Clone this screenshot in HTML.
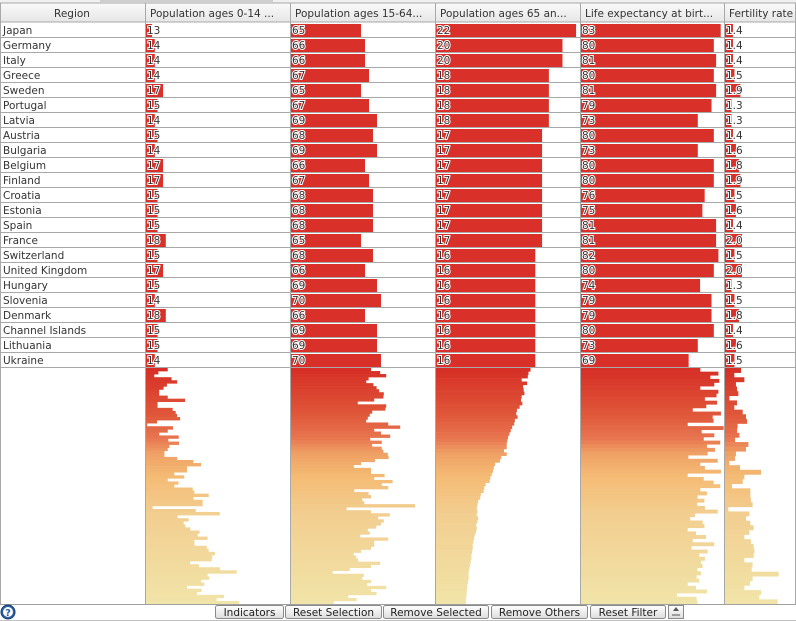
<!DOCTYPE html>
<html><head><meta charset="utf-8"><style>
html,body{margin:0;padding:0;background:#fff;}
svg{display:block;font-family:"DejaVu Sans","Liberation Sans",sans-serif;}
</style></head><body>
<svg id="chart" width="796" height="621" viewBox="0 0 796 621">
<defs>
<linearGradient id="hdr" x1="0" y1="0" x2="0" y2="1"><stop offset="0" stop-color="#fafafa"/><stop offset="1" stop-color="#e6e6e6"/></linearGradient>
<linearGradient id="btn" x1="0" y1="0" x2="0" y2="1"><stop offset="0" stop-color="#ffffff"/><stop offset="1" stop-color="#dcdcdc"/></linearGradient>
</defs>
<g id="top-strip">
<rect x="0" y="0" width="796" height="3" fill="#f0f0f0"/>
<rect x="100" y="0" width="95" height="2" fill="#cfcfcf"/>
<rect x="185" y="0" width="88" height="2" fill="#cfcfcf"/>
</g>
<g id="header"></g>
<g id="rows"></g>
<g id="mini"></g>
<g id="grid"></g>
<g id="toolbar">
<line x1="0" y1="604.5" x2="796" y2="604.5" stroke="#a0a0a0"/>
<line x1="0" y1="620.5" x2="796" y2="620.5" stroke="#c0c0c0"/>
<g>
<circle cx="8" cy="612" r="7" fill="#2a5fa8" stroke="#163c70"/>
<circle cx="8" cy="612" r="5" fill="#fff"/>
<text x="8" y="616" font-size="10" font-weight="bold" fill="#2a5fa8" text-anchor="middle">?</text>
</g>
</g>
</svg>
<script>
const regions=["Japan","Germany","Italy","Greece","Sweden","Portugal","Latvia","Austria","Bulgaria","Belgium","Finland","Croatia","Estonia","Spain","France","Switzerland","United Kingdom","Hungary","Slovenia","Denmark","Channel Islands","Lithuania","Ukraine"];
const colTitles=["Population ages 0-14 ...","Population ages 15-64...","Population ages 65 an...","Life expectancy at birt...","Fertility rate"];
const ages0to14=[13,14,14,14,17,15,14,15,14,17,17,15,15,15,18,15,17,15,14,18,15,15,14];
const ages15to64=[65,66,66,67,65,67,69,68,69,66,67,68,68,68,65,68,66,69,70,66,69,69,70];
const ages65=[22,20,20,18,18,18,18,17,17,17,17,17,17,17,17,16,16,16,16,16,16,16,16];
const lifeExp=[83,80,81,80,81,79,73,80,73,80,80,76,75,81,81,82,80,74,79,79,80,73,69];
const fertility=[1.4,1.4,1.4,1.5,1.9,1.3,1.3,1.4,1.6,1.8,1.9,1.5,1.6,1.4,2.0,1.5,2.0,1.3,1.5,1.8,1.4,1.6,1.5];
const mini0to14=[18.7,15.3,13.8,20.1,22.1,18.4,17.2,15.6,15.6,18.7,25.0,15.0,15.0,20.5,21.6,22.1,23.2,14.8,11.2,20.6,18.7,15.6,22.7,18.9,22.8,19.3,18.7,17.5,17.5,22.1,28.0,30.8,25.7,25.7,21.1,24.7,18.7,22.6,21.1,27.8,28.4,33.6,28.1,31.4,31.4,13.2,28.9,37.6,22.3,26.3,24.5,25.1,26.9,30.3,29.6,33.2,28.4,28.4,32.9,33.6,35.9,34.9,34.7,26.8,30.1,37.7,43.8,33.2,33.8,30.8,32.0,25.7,31.0,29.3,39.2,36.5,44.7];
const mini15to64=[67.5,69.8,71.3,66.9,66.3,68.1,68.9,69.5,70.7,70.6,68.3,64.2,71.3,71.1,67.8,67.2,66.7,66.3,71.8,74.8,68.3,70.0,72.3,67.3,70.2,67.8,70.2,70.6,71.7,71.9,68.5,65.0,63.2,67.5,67.5,70.9,68.3,72.9,70.2,71.8,63.3,66.9,67.5,65.3,65.8,78.5,61.4,67.5,72.2,69.3,70.7,70.0,68.8,66.7,67.2,64.8,71.8,68.3,68.3,67.5,65.0,63.2,63.8,64.3,69.8,67.5,62.2,57.9,65.7,65.3,67.5,66.5,71.3,67.5,68.9,61.8,63.9,58.2];
const mini65=[15.3,15.0,14.9,14.0,14.8,14.2,14.3,14.4,14.0,13.9,14.1,13.7,13.3,13.2,13.4,13.0,12.9,12.6,12.4,12.2,12.0,11.9,11.8,11.8,11.4,11.8,11.0,10.8,10.1,9.9,9.8,9.6,9.4,9.3,8.7,8.5,8.4,8.0,7.9,7.6,7.5,7.4,7.5,7.4,7.6,7.5,7.3,7.4,7.3,7.1,7.0,6.9,6.8,6.8,6.7,6.6,6.6,6.5,6.4,6.3,6.2,6.2,6.2,6.1,6.0,6.0,5.9,5.9,5.8,5.8];
const miniLife=[74.1,82.0,78.5,82.4,80.2,74.1,82.0,81.2,76.1,81.4,76.7,70.8,83.1,79.5,79.9,68.6,84.3,74.7,80.2,75.6,82.8,77.0,80.5,77.3,68.9,81.7,74.1,76.1,83.1,68.6,75.6,79.9,82.8,74.1,77.0,72.9,75.9,72.7,76.1,81.7,71.8,69.7,75.1,75.9,68.6,72.2,76.6,70.8,80.2,70.3,77.3,73.6,76.1,74.4,75.1,72.9,74.4,72.5,73.6,68.6,72.2,77.0,63.9,72.5,72.9];
const miniFert=[1.94,1.49,2.16,1.60,1.67,1.76,1.16,1.67,1.49,2.05,2.27,2.34,1.71,1.67,1.83,1.54,2.43,2.27,1.60,1.54,1.16,1.87,3.27,2.16,2.05,1.34,2.56,2.56,2.60,2.71,1.09,2.49,2.27,2.56,2.78,2.49,2.16,2.60,2.78,2.83,2.78,2.16,2.71,2.65,4.45,2.71,2.54,2.16,3.27,3.16,4.38];
const buttonLabels=["Indicators","Reset Selection","Remove Selected","Remove Others","Reset Filter"];

const NS="http://www.w3.org/2000/svg";
function mk(tag,attrs,parent){const e=document.createElementNS(NS,tag);for(const k in attrs)e.setAttribute(k,attrs[k]);parent.appendChild(e);return e;}
const colX=[145,290,435,580,724];
const colW=[145,145,145,144,72];
// axis functions: value -> bar width
const scales=[v=>Math.max(0,(v-10.8)*2.75),v=>Math.max(0,(v-47.5)*4),v=>Math.max(0,(v-1.4)*6.8),v=>Math.max(0,(v-22)*2.29),v=>Math.max(0,(v-0.87)*15)];
const tableSeries=[ages0to14,ages15to64,ages65,lifeExp,fertility];
const miniSeries=[mini0to14,mini15to64,mini65,miniLife,miniFert];
const colNames=["ages-0-14","ages-15-64","ages-65","life-expectancy","fertility-rate"];
const ROW_Y=23,ROW_H=15,MINI_TOP=368,MINI_BOT=604;

// header
const hdr=document.getElementById('header');
const hb=mk('rect',{x:0,y:3,width:796,height:19,fill:'url(#hdr)',stroke:'#a8a8a8'},hdr);
const rh=mk('text',{x:72,y:17,'font-size':10.5,fill:'#333','text-anchor':'middle'},hdr);
rh.textContent="Region";


colTitles.forEach((t,i)=>{
 const tx=mk('text',{x:colX[i]+5,y:17,'font-size':10.5,fill:'#333'},hdr);
 tx.textContent=t;
 
 
});

// table rows
const rowsG=document.getElementById('rows');
regions.forEach((r,ri)=>{
 const y=ROW_Y+ri*ROW_H;
 const g=mk('g',{},rowsG);
 
 
 mk('line',{x1:0,y1:y+ROW_H-0.5,x2:796,y2:y+ROW_H-0.5,stroke:'#a8a8a8'},g);
 const t=mk('text',{x:3,y:y+11,'font-size':10.5,fill:'#333'},g);
 t.textContent=r;
 tableSeries.forEach((s,ci)=>{
  const w=scales[ci](s[ri]);
  const b=mk('rect',{x:colX[ci]+1,y:y+1,width:w,height:ROW_H-2,fill:'#d9302a'},g);
  
  
  const lbl=mk('text',{x:colX[ci]+2,y:y+11,'font-size':10.5,fill:'#333',stroke:'#fff','stroke-width':2,'paint-order':'stroke'},g);
  lbl.textContent=ci===4?s[ri].toFixed(1):String(s[ri]);
  
  
 });
});

// mini overview bars
const stops=[[0,[214,45,37]],[0.2,[224,88,58]],[0.3,[232,118,80]],[0.36,[239,160,100]],[0.46,[244,187,116]],[0.62,[242,206,144]],[1,[241,228,168]]];
function col(t){for(let i=1;i<stops.length;i++){if(t<=stops[i][0]){const a=stops[i-1],b=stops[i];const f=(t-a[0])/(b[0]-a[0]);const c=a[1].map((v,k)=>Math.round(v+(b[1][k]-v)*f));return 'rgb('+c.join(',')+')';}}return 'rgb(241,228,168)';}
const miniG=document.getElementById('mini');
miniSeries.forEach((s,ci)=>{
 const h=(MINI_BOT-MINI_TOP)/s.length;
 s.forEach((v,i)=>{
  const b=mk('rect',{x:colX[ci]+1,y:MINI_TOP+i*h,width:scales[ci](v),height:h+0.3,fill:col((i+0.5)/s.length)},miniG);
  
  
 });
});

// column separators
const grid=document.getElementById('grid');
colX.forEach(x=>{mk('line',{x1:x+0.5,y1:3,x2:x+0.5,y2:604,stroke:'#a8a8a8'},grid);});
mk('line',{x1:0.5,y1:3,x2:0.5,y2:604,stroke:'#a8a8a8'},grid);
mk('line',{x1:795.5,y1:3,x2:795.5,y2:604,stroke:'#a8a8a8'},grid);

// toolbar buttons
const tb=document.getElementById('toolbar');
const btnX=[215,285,383,491,590],btnW=[68,96,105,96,75];
buttonLabels.forEach((l,i)=>{
 const g=mk('g',{},tb);
 
 
 mk('rect',{x:btnX[i]+0.5,y:605.5,width:btnW[i],height:13,rx:2,fill:'url(#btn)',stroke:'#8a8a8a'},g);
 const t=mk('text',{x:btnX[i]+btnW[i]/2+0.5,y:616,'font-size':10.5,fill:'#222','text-anchor':'middle'},g);
 t.textContent=l;
});
const ic=mk('g',{},tb);


mk('rect',{x:668.5,y:605.5,width:15,height:13,fill:'url(#btn)',stroke:'#8a8a8a'},ic);
mk('line',{x1:672,y1:615,x2:680,y2:615,stroke:'#555'},ic);
mk('path',{d:'M673 611 L676 607 L679 611 Z',fill:'#555'},ic);
</script>
</body></html>
